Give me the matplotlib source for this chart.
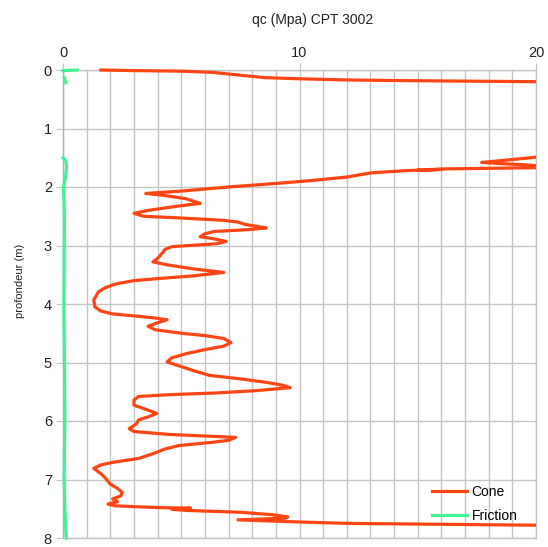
import numpy as np
import matplotlib.pyplot as plt
from matplotlib.ticker import MultipleLocator
from matplotlib.patches import Rectangle

plt.rcParams['font.family'] = ['Liberation Sans', 'DejaVu Sans']

# Cone resistance qc (MPa) vs depth (m)
cone_depth = [0.00, 0.01, 0.02, 0.04, 0.09, 0.13, 0.15, 0.17, 0.18, 0.19, 0.20, 0.21,
              1.47, 1.49, 1.55, 1.58, 1.60, 1.62, 1.66, 1.67, 1.68, 1.69, 1.71, 1.70,
              1.72, 1.76, 1.83, 1.89, 1.93, 2.00, 2.07, 2.11, 2.14, 2.20, 2.28, 2.33,
              2.40, 2.45, 2.50, 2.53, 2.57, 2.60, 2.64, 2.70, 2.73, 2.76, 2.80, 2.85,
              2.88, 2.93, 2.97, 3.02, 3.07, 3.13, 3.22, 3.28, 3.33, 3.40, 3.46, 3.52,
              3.56, 3.60, 3.66, 3.72, 3.79, 3.93, 4.05, 4.12, 4.17, 4.21, 4.24, 4.27,
              4.32, 4.38, 4.44, 4.50, 4.54, 4.59, 4.66, 4.72, 4.78, 4.85, 4.92, 4.99,
              5.07, 5.15, 5.22, 5.28, 5.34, 5.39, 5.43, 5.48, 5.52, 5.55, 5.58, 5.64,
              5.73, 5.80, 5.87, 5.93, 5.98, 6.05, 6.13, 6.18, 6.23, 6.26, 6.28, 6.33,
              6.36, 6.42, 6.48, 6.56, 6.64, 6.70, 6.75, 6.81, 6.90, 6.98, 7.08, 7.15,
              7.22, 7.28, 7.33, 7.38, 7.42, 7.45, 7.48, 7.49, 7.51, 7.53, 7.56, 7.60,
              7.64, 7.66, 7.69, 7.72, 7.75, 7.78, 7.80]
cone_qc = [1.6, 3.0, 5.0, 6.3, 7.5, 8.5, 10.0, 12.0, 14.0, 17.0, 20.0, 23.0,
           23.0, 20.0, 18.5, 17.7, 18.5, 19.5, 21.0, 20.0, 18.0, 16.2, 15.0, 16.0,
           14.5, 13.0, 12.0, 10.5, 9.3, 7.0, 5.0, 3.5, 4.2, 5.2, 5.8, 4.8,
           3.6, 3.0, 3.4, 5.0, 6.8, 7.4, 7.7, 8.6, 7.8, 6.4, 6.0, 5.8,
           6.3, 6.9, 6.5, 4.6, 4.3, 4.2, 4.0, 3.8, 4.4, 5.5, 6.8, 5.5,
           4.2, 3.0, 2.2, 1.8, 1.5, 1.3, 1.35, 1.6, 2.1, 3.2, 3.9, 4.4,
           4.0, 3.6, 3.9, 5.0, 6.0, 6.8, 7.1, 6.8, 6.0, 5.2, 4.6, 4.4,
           5.0, 5.6, 6.2, 7.5, 8.6, 9.3, 9.6, 8.2, 6.5, 4.5, 3.2, 3.0,
           3.0, 3.5, 3.96, 3.6, 3.2, 3.1, 2.8, 3.0, 4.5, 6.2, 7.3, 7.0,
           6.4, 4.9, 4.3, 3.8, 3.2, 2.2, 1.6, 1.3, 1.6, 1.8, 2.0, 2.3,
           2.5, 2.45, 2.1, 2.3, 1.9, 2.2, 4.0, 5.4, 4.6, 5.3, 7.5, 8.8,
           9.5, 9.4, 7.4, 9.5, 12.0, 20.0, 23.0]

# Friction (MPa) vs depth (m); NaN marks gaps in the record
fric_depth = [0.01, 0.0, np.nan, 0.13, 0.22, np.nan, 1.50, 1.55, 1.65, 1.80, 2.00,
              2.30, 2.70, 3.00, 3.50, 4.00, 4.50, 5.00, 5.50, 6.00, 6.50, 7.00,
              7.50, 8.00]
fric_val = [0.0, 0.6, np.nan, 0.05, 0.12, np.nan, 0.0, 0.12, 0.15, 0.12, 0.02,
            0.05, 0.06, 0.05, 0.05, 0.04, 0.05, 0.06, 0.07, 0.08, 0.06, 0.05,
            0.08, 0.14]

fig = plt.figure(figsize=(5.48, 5.47), dpi=100)
ax = fig.add_axes([63 / 548, 1 - 538 / 547, (536 - 63) / 548, (538 - 70) / 547])

# let the curves spill a little above/below the frame, but not past x = 20
clip = Rectangle((-0.01, -0.02), 1.01, 1.04, transform=ax.transAxes,
                 fill=False, visible=False)
ax.add_patch(clip)

l1, = ax.plot(cone_qc, cone_depth, color='#ff4513', lw=2.3, label='Cone',
              solid_joinstyle='round', zorder=3)
l2, = ax.plot(fric_val, fric_depth, color='#3ff294', lw=2.3, label='Friction',
              zorder=3)
l1.set_clip_path(clip)
l2.set_clip_path(clip)

ax.set_xlim(0, 20)
ax.set_ylim(8, 0)
ax.xaxis.tick_top()
ax.xaxis.set_major_locator(MultipleLocator(10))
ax.xaxis.set_minor_locator(MultipleLocator(1))
ax.yaxis.set_major_locator(MultipleLocator(1))

grid_col = '#c4c4c4'
ax.grid(True, which='both', color=grid_col, lw=1.0)
ax.set_axisbelow(True)
for sp in ax.spines.values():
    sp.set_color(grid_col)
    sp.set_linewidth(1.0)
ax.spines['left'].set_color('#b0b0b0')

ax.tick_params(axis='x', which='major', length=5, color=grid_col, labelsize=10.5,
               labelcolor='#222222', pad=2)
ax.tick_params(axis='x', which='minor', length=0)
ax.tick_params(axis='y', length=5, color=grid_col, labelsize=10.5,
               labelcolor='#222222', pad=3)

fig.text(313 / 548, 1 - 20 / 547, 'qc (Mpa) CPT 3002', ha='center', va='center',
         fontsize=10, color='#222222')
fig.text(20 / 548, 1 - 281 / 547, 'profondeur (m)', rotation=90, ha='center',
         va='center', fontsize=8, color='#222222')

ax.legend(loc='upper left', bbox_to_anchor=(432 / 548, 1 - 485 / 547),
          bbox_transform=fig.transFigure, frameon=False, fontsize=10,
          handlelength=2.5, handletextpad=0.35, borderpad=0, labelspacing=0.7,
          borderaxespad=0)

fig.savefig('out.png', dpi=100)
